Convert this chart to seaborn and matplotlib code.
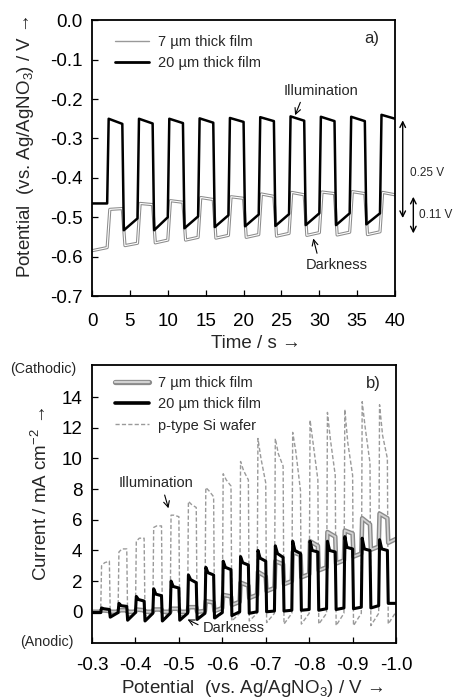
import seaborn as sns
import matplotlib.pyplot as plt
import matplotlib.patheffects as pe
from matplotlib.lines import Line2D

# ===============================
# data
# ===============================
# a) potential vs time, light chopped (on 2 s / off 2 s)
t_on = [2, 6, 10, 14, 18, 22, 26, 30, 34, 38]
t_off = [4, 8, 12, 16, 20, 24, 28, 32, 36, 40]
t_start, t_end = 0, 40

f20_pre = [-0.465, -0.465]
f20_light_start = [-0.250, -0.250, -0.250, -0.249, -0.248, -0.246, -0.244, -0.245, -0.245, -0.240]
f20_light_end = [-0.263, -0.262, -0.261, -0.260, -0.258, -0.256, -0.255, -0.256, -0.256, -0.250]
f20_dark_start = [-0.533, -0.533, -0.528, -0.525, -0.523, -0.522, -0.520, -0.520, -0.518]
f20_dark_end = [-0.503, -0.500, -0.498, -0.495, -0.493, -0.492, -0.490, -0.490, -0.490]

f7_pre = [-0.585, -0.577]
f7_light_start = [-0.480, -0.465, -0.458, -0.450, -0.448, -0.441, -0.437, -0.436, -0.435, -0.437]
f7_light_end = [-0.478, -0.468, -0.462, -0.455, -0.452, -0.447, -0.443, -0.440, -0.440, -0.443]
f7_dark_start = [-0.572, -0.565, -0.558, -0.553, -0.551, -0.548, -0.546, -0.545, -0.544]
f7_dark_end = [-0.566, -0.558, -0.551, -0.546, -0.544, -0.541, -0.539, -0.538, -0.537]

# b) current vs potential, chopped light linear sweep
v_on = [-0.32, -0.36, -0.40, -0.44, -0.48, -0.52, -0.56, -0.60, -0.64,
        -0.68, -0.72, -0.76, -0.80, -0.84, -0.88, -0.92, -0.96]
v_off = [-0.34, -0.38, -0.42, -0.46, -0.50, -0.54, -0.58, -0.62, -0.66,
         -0.70, -0.74, -0.78, -0.82, -0.86, -0.90, -0.94, -0.98]
v_start, v_end = -0.30, -1.00

b20_pre = [-0.05, -0.05]
b20_peak = [0.25, 0.55, 1.0, 1.5, 2.0, 2.4, 2.9, 3.3, 3.6, 4.0, 4.3, 4.6, 4.6, 4.6, 4.9, 4.8, 4.7]
b20_mid = [0.2, 0.4, 0.8, 1.15, 1.65, 2.1, 2.55, 2.9, 3.2, 3.5, 3.8, 4.0, 4.0, 4.0, 4.2, 4.1, 4.1]
b20_end = [0.15, 0.35, 0.7, 1.05, 1.55, 1.9, 2.4, 2.75, 3.05, 3.3, 3.55, 3.8, 3.9, 3.9, 4.1, 4.0, 4.0]
b20_dark_start = [-0.35, -0.55, -0.6, -0.6, -0.55, -0.5, -0.4, -0.25, -0.1, 0.0, 0.05, 0.1, 0.1, 0.15, 0.2, 0.25, 0.55]
b20_dark_end = [-0.05, -0.05, -0.1, -0.1, -0.1, -0.1, -0.05, 0.0, 0.0, 0.05, 0.1, 0.15, 0.2, 0.25, 0.3, 0.4, 0.55]

b7_pre = [0.0, 0.0]
b7_light_start = [0.1, 0.1, 0.15, 0.15, 0.2, 0.3, 0.7, 1.1, 1.9, 2.6, 3.3, 3.9, 4.6, 5.2, 5.3, 6.1, 6.4]
b7_light_end = [0.05, 0.1, 0.1, 0.15, 0.2, 0.3, 0.6, 1.0, 1.7, 2.3, 3.1, 3.7, 4.3, 4.9, 5.1, 5.7, 6.1]
b7_dark_start = [0.0, 0.0, 0.0, 0.0, 0.0, 0.0, 0.05, 0.45, 0.9, 1.35, 1.8, 2.25, 2.7, 3.15, 3.6, 4.05, 4.5]
b7_dark_end = [0.0, 0.0, 0.0, 0.0, 0.0, 0.05, 0.25, 0.65, 1.1, 1.55, 2.0, 2.45, 2.9, 3.35, 3.8, 4.25, 4.75]

si_pre = [0.0, 0.0]
si_peak = [3.0, 3.9, 4.6, 5.5, 6.3, 7.2, 8.1, 9.0, 9.8, 11.3, 11.3, 11.7, 12.5, 13.0, 13.2, 13.7, 13.5]
si_mid = [3.2, 4.1, 4.8, 5.6, 6.3, 7.0, 7.9, 8.6, 9.2, 10.0, 10.3, 10.5, 11.0, 11.2, 11.0, 12.0, 11.5]
si_end = [3.3, 4.1, 4.8, 5.6, 6.2, 6.8, 7.5, 8.2, 8.6, 8.4, 9.5, 7.9, 8.6, 8.9, 8.9, 9.7, 10.0]
si_dark_start = [-0.2, -0.3, -0.3, -0.3, -0.3, -0.4, -0.5, -0.6, -0.6, -0.7, -0.8, -0.8, -0.8, -0.9, -0.9, -0.9, -0.8]
si_dark_end = [-0.05, -0.05, -0.05, -0.1, -0.1, -0.1, -0.1, -0.1, -0.1, -0.1, -0.1, -0.1, -0.1, -0.1, -0.1, -0.1, 0.0]


def chopped(x0, x1, on, off, pre, l_start, l_end, d_start, d_end, ramp, l_mid=None, mid_at=0.35):
    xs = [x0, on[0]]
    ys = [pre[0], pre[1]]
    for k in range(len(on)):
        nxt = on[k + 1] if k + 1 < len(on) else x1
        xs.append(on[k] + ramp)
        ys.append(l_start[k])
        if l_mid is not None:
            xs.append(on[k] + (off[k] - on[k]) * mid_at)
            ys.append(l_mid[k])
        xs.append(off[k])
        ys.append(l_end[k])
        if off[k] != x1:
            xs += [off[k] + ramp, nxt]
            ys += [d_start[k], d_end[k]]
    return xs, ys


# ===============================
# style
# ===============================
sns.set_style('ticks')
plt.rcParams['font.family'] = ['Liberation Sans', 'DejaVu Sans']
plt.rcParams['mathtext.fontset'] = 'custom'
plt.rcParams['mathtext.rm'] = 'Liberation Sans'
plt.rcParams['mathtext.default'] = 'regular'
plt.rcParams['axes.unicode_minus'] = False

fig = plt.figure(figsize=(4.6, 6.99), dpi=100)
ax1 = fig.add_axes([0.200, 0.5765, 0.659, 0.3945])
ax2 = fig.add_axes([0.200, 0.0800, 0.661, 0.3980])

gray_fx = [pe.Stroke(linewidth=2.3, foreground='#8c8c8c'), pe.Normal()]
gray_fx_b = [pe.Stroke(linewidth=3.3, foreground='#8a8a8a'), pe.Normal()]
arrow_kw = dict(arrowstyle='->', color='black', lw=0.8, shrinkA=1, shrinkB=0)

# ===============================
# a) potential vs time
# ===============================
x, y = chopped(t_start, t_end, t_on, t_off, f7_pre, f7_light_start, f7_light_end,
               f7_dark_start, f7_dark_end, 0.35)
sns.lineplot(x=x, y=y, ax=ax1, sort=False, estimator=None, color='white', lw=0.8,
             path_effects=gray_fx)
x, y = chopped(t_start, t_end, t_on, t_off, f20_pre, f20_light_start, f20_light_end,
               f20_dark_start, f20_dark_end, 0.2)
sns.lineplot(x=x, y=y, ax=ax1, sort=False, estimator=None, color='black', lw=1.8)

ax1.set_xlim(0, 40)
ax1.set_ylim(-0.7, 0.0)
ax1.set_xticks(range(0, 41, 5))
ax1.set_yticks([-0.7, -0.6, -0.5, -0.4, -0.3, -0.2, -0.1, 0.0])
ax1.set_yticklabels(['-0.7', '-0.6', '-0.5', '-0.4', '-0.3', '-0.2', '-0.1', '0.0'])
ax1.set_xlabel('Time / s →', fontsize=13.5)
ax1.set_ylabel('Potential  (vs. Ag/AgNO$_3$) / V →', fontsize=13.5)
ax1.xaxis.set_label_coords(0.54, -0.14)
ax1.yaxis.set_label_coords(-0.185, 0.54)

h1 = [Line2D([], [], color='#999999', lw=1.0),
      Line2D([], [], color='black', lw=2.0)]
ax1.legend(h1, ['7 µm thick film', '20 µm thick film'], loc='upper left',
           bbox_to_anchor=(0.077, 0.946), frameon=False, fontsize=10.5,
           handlelength=2.3, handletextpad=0.6, labelspacing=0.5,
           borderpad=0, borderaxespad=0)

ax1.text(36.9, -0.046, 'a)', fontsize=12, ha='center', va='center')
ax1.annotate('Illumination', xy=(26.8, -0.241), xytext=(30.2, -0.179),
             fontsize=10.5, ha='center', va='center',
             arrowprops=dict(arrow_kw, relpos=(0.25, 0)))
ax1.annotate('Darkness', xy=(29.2, -0.554), xytext=(32.3, -0.621),
             fontsize=10.5, ha='center', va='center',
             arrowprops=dict(arrow_kw, relpos=(0.2, 1)))

ax1.annotate('', xy=(41.0, -0.254), xytext=(41.0, -0.502), annotation_clip=False,
             arrowprops=dict(arrowstyle='<->', color='black', lw=1.0, shrinkA=0, shrinkB=0))
ax1.annotate('', xy=(42.4, -0.448), xytext=(42.4, -0.541), annotation_clip=False,
             arrowprops=dict(arrowstyle='<->', color='black', lw=1.0, shrinkA=0, shrinkB=0))
ax1.text(41.9, -0.388, '0.25 V', fontsize=8.5, ha='left', va='center', clip_on=False)
ax1.text(43.2, -0.495, '0.11 V', fontsize=8.5, ha='left', va='center', clip_on=False)

# ===============================
# b) current vs potential
# ===============================
x, y = chopped(v_start, v_end, v_on, v_off, si_pre, si_peak, si_end,
               si_dark_start, si_dark_end, -0.002, l_mid=si_mid, mid_at=0.45)
sns.lineplot(x=x, y=y, ax=ax2, sort=False, estimator=None, color='#9a9a9a', lw=1.0,
             dashes=False, linestyle=(0, (3, 1.6)))
x, y = chopped(v_start, v_end, v_on, v_off, b7_pre, b7_light_start, b7_light_end,
               b7_dark_start, b7_dark_end, -0.002)
sns.lineplot(x=x, y=y, ax=ax2, sort=False, estimator=None, color='#d2d2d2', lw=1.3,
             path_effects=gray_fx_b)
x, y = chopped(v_start, v_end, v_on, v_off, b20_pre, b20_peak, b20_end,
               b20_dark_start, b20_dark_end, -0.002, l_mid=b20_mid, mid_at=0.35)
sns.lineplot(x=x, y=y, ax=ax2, sort=False, estimator=None, color='black', lw=2.2)

ax2.set_xlim(-0.3, -1.0)
ax2.set_ylim(-2.04, 16.1)
ax2.set_xticks([-0.3, -0.4, -0.5, -0.6, -0.7, -0.8, -0.9, -1.0])
ax2.set_xticklabels(['-0.3', '-0.4', '-0.5', '-0.6', '-0.7', '-0.8', '-0.9', '-1.0'])
ax2.set_yticks(range(0, 15, 2))
ax2.set_xlabel('Potential  (vs. Ag/AgNO$_3$) / V →', fontsize=13.5)
ax2.set_ylabel('Current / mA cm$^{-2}$ →', fontsize=13.5)
ax2.xaxis.set_label_coords(0.528, -0.124)
ax2.yaxis.set_label_coords(-0.135, 0.536)

h2 = [Line2D([], [], color='#d2d2d2', lw=1.6,
             path_effects=[pe.Stroke(linewidth=3.8, foreground='#8a8a8a'), pe.Normal()]),
      Line2D([], [], color='black', lw=2.6),
      Line2D([], [], color='#9a9a9a', lw=1.0, linestyle=(0, (3, 1.6)))]
ax2.legend(h2, ['7 µm thick film', '20 µm thick film', 'p-type Si wafer'], loc='upper left',
           bbox_to_anchor=(0.077, 0.96), frameon=False, fontsize=10.5,
           handlelength=2.3, handletextpad=0.6, labelspacing=0.5,
           borderpad=0, borderaxespad=0)

ax2.text(-0.947, 14.9, 'b)', fontsize=12, ha='center', va='center')
ax2.annotate('Illumination', xy=(-0.476, 6.75), xytext=(-0.447, 8.37),
             fontsize=10.5, ha='center', va='center',
             arrowprops=dict(arrow_kw, relpos=(0.6, 0)))
ax2.annotate('Darkness', xy=(-0.52, -0.5), xytext=(-0.626, -1.08),
             fontsize=10.5, ha='center', va='center',
             arrowprops=dict(arrow_kw, relpos=(0, 0.6)))
fig.text(0.094, 0.4717, '(Cathodic)', fontsize=10.3, ha='center', va='center')
fig.text(0.101, 0.082, '(Anodic)', fontsize=10.3, ha='center', va='center')

for ax in (ax1, ax2):
    for s in ax.spines.values():
        s.set_visible(True)
        s.set_linewidth(1.3)
        s.set_color('black')
    ax.tick_params(direction='in', length=4, width=0.9, labelsize=13.5,
                   top=False, right=False, colors='black')
    ax.tick_params(axis='y', pad=7)
ax1.tick_params(axis='x', pad=12)
ax2.tick_params(axis='x', pad=10)

fig.savefig('out.png', dpi=100)
